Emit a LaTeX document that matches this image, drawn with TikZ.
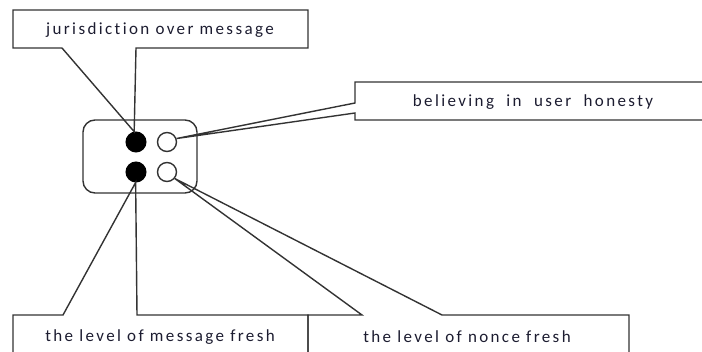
\documentclass[tikz,border=0pt]{standalone}
\usepackage{fontspec}
\setmainfont[Ligatures={NoCommon,NoRare,NoContextual}]{Carlito}
\usetikzlibrary{calc}
\definecolor{ink}{HTML}{1C1C30}
\definecolor{edge}{HTML}{333333}
\tikzset{
  outline/.style={draw=edge, line width=1.4pt, line join=miter},
  label/.style={inner sep=0pt, text=ink, font=\fontsize{17}{20}\selectfont\addfontfeature{LetterSpace=14}},
  fulldot/.style={circle, fill=black, draw=black, line width=1pt, minimum size=20pt, inner sep=0pt},
  emptydot/.style={circle, fill=white, draw=edge, line width=1.4pt, minimum size=19pt, inner sep=0pt},
}
\begin{document}
\begin{tikzpicture}[x=1pt, y=-1pt]
\useasboundingbox (0,0) rectangle (702,352);
\clip (0,0) rectangle (702,352);

% the group of four markers
\draw[outline, rounded corners=12pt] (83,120) rectangle (197,193);
\node[fulldot]  (jur)   at (136,142) {};
\node[emptydot] (hon)   at (167,142) {};
\node[fulldot]  (mfr)   at (136,172) {};
\node[emptydot] (nfr)   at (167,172) {};

% callout tips on the markers
\coordinate (tjur) at (jur.100);
\coordinate (thon) at (hon.20);
\coordinate (tmfr) at (mfr.268);
\coordinate (tnfr) at (nfr.-40);

% top callout
\draw[outline] (13,10) -- (308,10) -- (308,48) -- (136,48) -- (tjur) -- (62,48) -- (13,48) -- cycle;
\node[label] (ljur) at (160,30) {jurisdiction over message};

% right callout
\draw[outline] (thon) -- (355,103) -- (355,82) -- (712,82) -- (712,120) -- (355,120) -- (355,113) -- (thon);
\node[label] (lhon) at (533,102) {believing\ \ in\ \ user\ \ honesty};

% bottom left callout
\draw[outline] (13,362) -- (13,315) -- (63,315) -- (tmfr) -- (137,315) -- (308,315) -- (308,362);
\node[label] (lmfr) at (160,337) {the level of message fresh};

% bottom right callout
\draw[outline] (308,362) -- (308,315) -- (362,315) -- (tnfr) -- (442,315) -- (629,315) -- (629,362);
\node[label] (lnfr) at (467,337) {the level of nonce fresh};
\end{tikzpicture}
\end{document}
